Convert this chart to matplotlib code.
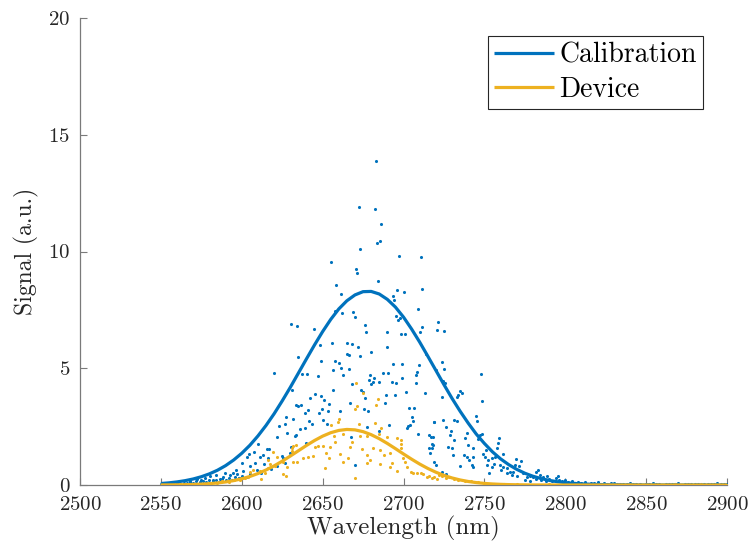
import numpy as np
import matplotlib
matplotlib.use("Agg")
import matplotlib.pyplot as plt

plt.rcParams['font.family'] = ['cmr10', 'DejaVu Serif']
plt.rcParams['mathtext.fontset'] = 'cm'
plt.rcParams['axes.formatter.use_mathtext'] = True

# ---------------- data ----------------
calib_x = [
    2683.2, 2672.3, 2682.6, 2686.3, 2685.7, 2683.6, 2672.9, 2655.0, 2697.0, 2710.6,
    2670.8, 2671.3, 2658.3, 2684.2, 2661.4, 2696.0, 2700.5, 2711.2, 2693.3, 2693.9,
    2668.8, 2662.0, 2670.2, 2657.8, 2695.4, 2697.6, 2696.4, 2708.7, 2630.4, 2634.0,
    2644.7, 2676.0, 2676.6, 2689.8, 2698.5, 2701.0, 2711.6, 2710.4, 2721.3, 2720.7,
    2725.2,
    2655.8, 2665.3, 2668.4, 2648.2, 2672.0, 2689.6, 2680.1, 2664.8, 2666.0, 2673.3,
    2634.6, 2713.9, 2648.8, 2657.6, 2659.9, 2693.3, 2698.8, 2709.3, 2666.0, 2661.2,
    2656.6, 2647.1, 2637.2, 2640.3, 2662.4, 2687.1, 2690.2, 2708.3, 2707.5, 2720.1,
    2679.1, 2681.8, 2678.8, 2681.3, 2684.6, 2679.9, 2668.0, 2692.9, 2695.1, 2699.1,
    2707.7, 2630.9, 2656.6, 2675.0, 2673.9, 2701.5, 2713.3, 2645.5, 2649.2, 2642.4,
    2651.0, 2689.2, 2694.7, 2676.2, 2633.7, 2635.0, 2636.6, 2654.1, 2666.7, 2688.3,
    2675.6, 2677.8, 2649.6, 2653.5, 2660.8, 2641.0, 2639.1, 2648.0, 2631.9, 2641.8,
    2643.2, 2650.4, 2652.9, 2705.4, 2705.6, 2706.7, 2703.6, 2718.8, 2702.8, 2704.2,
    2701.9, 2691.2, 2685.0, 2709.2, 2715.6, 2717.0, 2718.4, 2636.0, 2639.1, 2632.9,
    2639.5, 2667.7, 2677.6, 2715.9, 2717.4, 2717.4, 2716.4, 2719.0, 2720.1, 2669.8,
    2630.4,
    2620.1, 2627.6, 2623.3, 2626.7, 2621.6, 2628.2, 2633.3, 2615.4, 2616.8, 2609.8,
    2604.3, 2607.6, 2613.4, 2611.0, 2603.0, 2608.4, 2599.9, 2605.1, 2616.0, 2624.6,
    2625.7, 2629.8, 2596.4, 2589.8, 2592.7, 2597.3, 2584.1, 2580.4, 2588.2, 2586.6,
    2577.3, 2594.8, 2601.0, 2605.1, 2609.2, 2572.1, 2568.0, 2575.0, 2582.0, 2590.0,
    2598.0, 2603.0, 2612.0, 2618.0, 2622.0, 2627.0, 2614.0,
    2723.6, 2725.0, 2747.7, 2724.6, 2725.7, 2734.9, 2736.0, 2733.9, 2732.9, 2723.8,
    2748.3, 2718.9, 2724.2, 2731.4, 2733.2, 2744.8, 2726.3, 2745.3, 2729.4, 2728.7,
    2731.2, 2739.1, 2738.0, 2747.3, 2748.5, 2745.9, 2759.2, 2758.6, 2740.0, 2718.0,
    2727.8, 2729.8, 2743.2, 2751.0, 2757.6, 2730.3, 2737.4, 2739.0, 2740.7, 2742.7,
    2749.3, 2750.4, 2761.7, 2752.4, 2754.5, 2756.6, 2742.1, 2743.2, 2751.4, 2754.5,
    2756.0, 2753.0, 2759.7, 2761.7, 2760.3, 2763.8, 2765.8, 2764.2, 2769.5, 2772.4,
    2768.9, 2771.6, 2766.8, 2769.9, 2767.9, 2774.0, 2776.1, 2778.2, 2780.2, 2781.9,
    2783.4, 2784.4, 2786.4, 2788.5, 2795.7, 2723.6, 2726.0, 2735.0,
    2550, 2552, 2554, 2556, 2558, 2560, 2562, 2564, 2566, 2568, 2570, 2572, 2574, 2576,
    2578, 2580, 2582, 2584, 2586, 2588, 2590, 2592, 2594, 2596, 2598, 2600,
    2775, 2778, 2782, 2785, 2788,
    2790, 2792, 2794, 2796, 2798, 2800, 2802, 2804, 2806, 2808, 2810, 2812, 2814, 2816,
    2818, 2820, 2822, 2824, 2826, 2828, 2830, 2832, 2834, 2836, 2838, 2840, 2842, 2844,
    2846, 2848, 2850, 2852, 2854, 2856, 2858, 2860, 2862, 2864, 2866, 2868, 2870, 2872,
    2874, 2876, 2878, 2880, 2882, 2884, 2886, 2888, 2890, 2892, 2894, 2896, 2898, 2900,
]
calib_y = [
    13.89, 11.92, 11.81, 11.18, 10.46, 10.35, 10.12, 9.56, 9.81, 9.76,
    9.26, 9.08, 8.58, 8.72, 8.18, 8.35, 8.27, 8.39, 8.08, 7.91,
    7.42, 7.38, 7.18, 7.44, 7.25, 7.15, 7.07, 7.52, 6.90, 6.80,
    6.68, 6.85, 6.57, 6.55, 6.45, 6.45, 6.75, 6.55, 6.99, 6.64,
    6.61,
    6.10, 6.07, 6.04, 6.00, 5.92, 5.92, 5.70, 5.61, 5.57, 5.52,
    5.49, 5.61, 5.32, 5.32, 5.21, 5.17, 5.17, 5.13, 4.95, 5.00,
    4.92, 4.68, 4.74, 4.74, 4.71, 4.81, 4.78, 4.85, 4.71, 4.92,
    4.71, 4.60, 4.50, 4.43, 4.43, 4.33, 4.33, 4.40, 4.37, 4.60,
    4.38, 4.07, 4.07, 4.00, 4.07, 4.00, 3.93, 3.88, 3.81, 3.71,
    3.64, 3.85, 3.85, 3.71, 3.43, 3.38, 3.43, 3.47, 3.50, 3.53,
    3.24, 3.18, 3.25, 3.18, 3.18, 3.21, 3.10, 3.10, 2.81, 2.75,
    2.61, 2.78, 2.60, 2.90, 2.75, 3.28, 3.28, 2.69, 2.53, 2.57,
    2.45, 2.57, 2.33, 2.18, 2.14, 2.07, 2.04, 2.39, 2.45, 2.10,
    1.81, 2.07, 2.47, 1.60, 1.57, 1.74, 1.36, 1.00, 0.86, 0.86,
    1.64,
    4.78, 2.90, 2.53, 2.61, 2.07, 2.21, 2.14, 1.53, 1.53, 1.76,
    1.33, 1.43, 1.28, 1.21, 1.21, 0.96, 0.93, 0.83, 1.17, 1.24,
    1.16, 1.36, 0.64, 0.53, 0.43, 0.47, 0.43, 0.40, 0.33, 0.26,
    0.29, 0.50, 0.61, 0.47, 0.66, 0.26, 0.18, 0.20, 0.22, 0.20,
    0.30, 0.35, 0.50, 0.70, 0.80, 0.95, 0.90,
    5.25, 4.97, 4.74, 4.47, 4.38, 4.03, 3.95, 3.85, 3.78, 3.76,
    3.61, 2.71, 2.78, 2.78, 2.75, 2.97, 2.47, 2.74, 2.31, 2.14,
    1.93, 2.24, 2.00, 2.14, 2.18, 1.96, 2.00, 1.81, 1.71, 1.71,
    1.64, 1.57, 1.57, 1.50, 1.57, 1.28, 1.28, 1.21, 1.07, 1.21,
    1.33, 1.19, 1.33, 1.07, 1.14, 1.21, 0.86, 0.78, 0.86, 0.78,
    0.89, 0.50, 0.86, 0.78, 0.64, 0.71, 0.57, 0.50, 1.10, 1.03,
    0.86, 0.81, 0.43, 0.39, 0.57, 0.50, 0.36, 0.39, 0.36, 0.57,
    0.64, 0.43, 0.33, 0.39, 0.39, 0.57, 0.45, 0.80,
    0.03, 0.05, 0.02, 0.06, 0.04, 0.08, 0.05, 0.10, 0.07, 0.12, 0.09, 0.15, 0.11, 0.18,
    0.14, 0.20, 0.15, 0.22, 0.12, 0.25, 0.18, 0.30, 0.22, 0.35, 0.28, 0.40,
    0.20, 0.15, 0.25, 0.20, 0.18,
    0.25, 0.18, 0.30, 0.22, 0.15, 0.20, 0.12, 0.16, 0.10, 0.14, 0.08, 0.12, 0.06, 0.10,
    0.07, 0.11, 0.05, 0.08, 0.04, 0.07, 0.09, 0.03, 0.06, 0.05, 0.04, 0.07, 0.03, 0.05,
    0.06, 0.02, 0.05, 0.04, 0.07, 0.03, 0.05, 0.02, 0.06, 0.04, 0.03, 0.05, 0.07, 0.02,
    0.04, 0.06, 0.03, 0.05, 0.04, 0.02, 0.06, 0.03, 0.05, 0.04, 0.07, 0.03, 0.05, 0.04,
]

device_x = [
    2670.6, 2674.7, 2684.2, 2683.0, 2671.4, 2670.2, 2660.3, 2659.7, 2672.6, 2682.4,
    2685.9, 2655.0, 2657.2, 2662.8, 2672.9, 2677.4, 2685.0, 2689.6, 2695.8, 2698.6,
    2698.2, 2645.3, 2647.3, 2650.4, 2654.6, 2633.6, 2630.9, 2666.9, 2674.2, 2681.0,
    2677.6, 2685.5, 2691.7, 2660.7, 2652.1, 2644.2, 2638.1, 2641.1, 2634.0, 2654.1,
    2665.9, 2679.3, 2662.8, 2651.5, 2670.2, 2685.5, 2692.6, 2691.6, 2699.9, 2701.0,
    2702.4, 2704.4, 2706.0, 2708.1, 2710.6, 2714.3, 2717.4, 2720.5, 2695.8, 2677.3,
    2657.6, 2668.0, 2698.5, 2688.0,
    2631.9, 2630.9, 2619.5, 2621.6, 2616.4, 2617.5, 2620.5, 2625.3, 2625.7, 2627.2,
    2627.7, 2611.3, 2611.9, 2605.1, 2607.2, 2616.4, 2614.4, 2631.9, 2598.9,
    2550, 2554, 2558, 2562, 2566, 2570, 2574, 2578, 2580, 2585, 2588, 2592, 2595, 2598,
    2600, 2602, 2604,
    2712.0, 2716.0, 2719.0, 2722.0, 2724.0, 2726.0, 2728.0, 2731.0, 2734.0, 2738.0,
    2742.0, 2746.0, 2750.0, 2756.0, 2762.0, 2770.0, 2780.0, 2790.0, 2800.0, 2810.0,
    2820.0, 2830.0, 2840.0, 2850.0, 2860.0, 2868.0, 2875.0, 2884.0, 2892.0, 2900.0,
]
device_y = [
    4.35, 3.95, 3.67, 3.43, 3.40, 3.25, 2.81, 2.71, 2.61, 2.67,
    2.43, 2.57, 2.10, 2.18, 2.10, 2.10, 2.18, 2.04, 2.00, 1.76,
    1.57, 1.64, 1.67, 1.67, 1.64, 1.71, 1.47, 1.61, 1.53, 1.57,
    1.28, 1.50, 1.38, 1.33, 1.36, 1.24, 1.14, 1.21, 1.00, 1.14,
    1.14, 1.07, 1.00, 0.71, 0.31, 0.90, 0.96, 0.78, 1.17, 1.00,
    0.78, 0.57, 0.53, 0.50, 0.53, 0.36, 0.29, 0.24, 0.61, 0.96,
    1.85, 1.85, 1.93, 1.30,
    1.67, 1.57, 1.43, 1.21, 1.07, 0.90, 0.83, 1.00, 0.47, 0.40,
    0.78, 0.61, 0.26, 0.54, 0.64, 0.71, 0.50, 1.00, 0.21,
    0.01, 0.02, 0.01, 0.03, 0.02, 0.04, 0.03, 0.06, 0.08, 0.10, 0.15, 0.12, 0.20, 0.25,
    0.30, 0.28, 0.35,
    0.45, 0.40, 0.35, 0.42, 0.38, 0.30, 0.33, 0.25, 0.22, 0.18,
    0.15, 0.12, 0.08, 0.05, 0.04, 0.03, 0.02, 0.03, 0.02, 0.01,
    0.02, 0.01, 0.03, 0.02, 0.01, 0.05, 0.02, 0.03, 0.01, 0.02,
]

fit_x = [2550, 2555, 2560, 2565, 2570, 2575, 2580, 2585, 2590, 2595,
         2600, 2605, 2610, 2615, 2620, 2625, 2630, 2635, 2640, 2645,
         2650, 2655, 2660, 2665, 2670, 2675, 2680, 2685, 2690, 2695,
         2700, 2705, 2710, 2715, 2720, 2725, 2730, 2735, 2740, 2745,
         2750, 2755, 2760, 2765, 2770, 2775, 2780, 2785, 2790, 2795,
         2800, 2810, 2820, 2830, 2840, 2850, 2860, 2870, 2880, 2890, 2900]
calib_fit = [0.064, 0.092, 0.132, 0.186, 0.258, 0.354, 0.477, 0.633, 0.829, 1.070,
             1.359, 1.70, 2.10, 2.55, 3.05, 3.60, 4.18, 4.79, 5.40, 6.00,
             6.57, 7.09, 7.54, 7.89, 8.14, 8.28, 8.29, 8.18, 7.95, 7.62,
             7.19, 6.68, 6.12, 5.52, 4.91, 4.30, 3.71, 3.16, 2.65, 2.18,
             1.78, 1.42, 1.12, 0.874, 0.670, 0.505, 0.376, 0.276, 0.199, 0.142,
             0.099, 0.047, 0.021, 0.009, 0.003, 0.001, 0.0, 0.0, 0.0, 0.0, 0.0]
device_fit = [0.003, 0.005, 0.008, 0.014, 0.023, 0.037, 0.057, 0.087, 0.130, 0.188,
              0.265, 0.365, 0.490, 0.642, 0.819, 1.020, 1.239, 1.466, 1.693, 1.906,
              2.092, 2.239, 2.337, 2.379, 2.361, 2.285, 2.156, 1.984, 1.780, 1.558,
              1.329, 1.106, 0.897, 0.710, 0.548, 0.412, 0.302, 0.216, 0.151, 0.103,
              0.068, 0.044, 0.028, 0.017, 0.010, 0.006, 0.003, 0.002, 0.001, 0.0,
              0.0, 0.0, 0.0, 0.0, 0.0, 0.0, 0.0, 0.0, 0.0, 0.0, 0.0]

x_ticks = [2500, 2550, 2600, 2650, 2700, 2750, 2800, 2850, 2900]
y_ticks = [0, 5, 10, 15, 20]
series_names = ["Calibration", "Device"]

# ---------------- plot ----------------
BLUE = '#0072BD'
YELLOW = '#EDB120'
TXT = '#262626'
AXC = '#7a7a7a'

fig = plt.figure(figsize=(7.48, 5.50), dpi=100)
ax = fig.add_axes([80/748, 65/550, (727-80)/748, (485-18)/550])

ax.scatter(calib_x, calib_y, s=5, c=BLUE, linewidths=0, zorder=2)
ax.scatter(device_x, device_y, s=5, c=YELLOW, linewidths=0, zorder=2)
ax.plot(fit_x, calib_fit, color=BLUE, lw=2.3, label=series_names[0], zorder=3,
        solid_capstyle='butt')
ax.plot(fit_x, device_fit, color=YELLOW, lw=2.3, label=series_names[1], zorder=4,
        solid_capstyle='butt')

ax.set_xlim(2500, 2900)
ax.set_ylim(0, 20)
ax.set_xticks(x_ticks)
ax.set_yticks(y_ticks)
ax.tick_params(direction='in', length=5, width=0.8, color=AXC, labelsize=15,
               labelcolor=TXT)
ax.tick_params(axis='x', pad=8)
ax.tick_params(axis='y', pad=7)
for side in ['top', 'right']:
    ax.spines[side].set_visible(False)
for side in ['left', 'bottom']:
    ax.spines[side].set_color(AXC)
    ax.spines[side].set_linewidth(0.9)

ax.set_xlabel('Wavelength (nm)', fontsize=18, color=TXT, labelpad=1)
ax.set_ylabel('Signal (a.u.)', fontsize=17, color=TXT, labelpad=7)

leg = ax.legend(loc='upper right', bbox_to_anchor=(703/748, (550-36)/550),
                bbox_transform=fig.transFigure, fontsize=20, frameon=True,
                fancybox=False, handlelength=2.15, handletextpad=0.2,
                borderpad=0.22, labelspacing=0.3, borderaxespad=0)
leg.get_frame().set_edgecolor(TXT)
leg.get_frame().set_linewidth(0.8)
leg.get_frame().set_alpha(1)

fig.savefig('out.png', dpi=100)
